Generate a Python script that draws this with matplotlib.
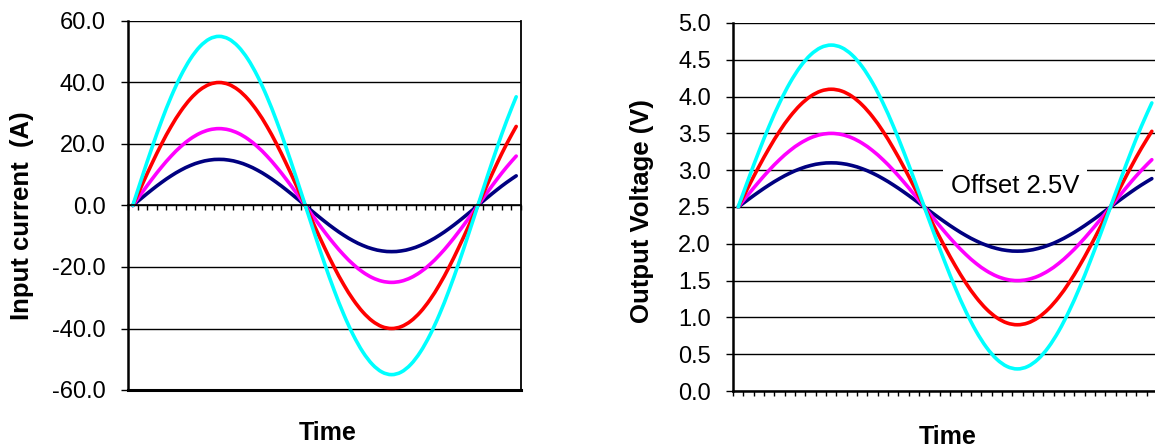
import numpy as np
import matplotlib.pyplot as plt
from matplotlib.path import Path
from matplotlib.patches import PathPatch

plt.rcParams['font.family'] = ['Liberation Sans', 'DejaVu Sans']

# phase of each sample point (degrees), one point per category
phase_deg = list(range(0, 401, 10))

# input current amplitudes (A) and matching output voltage swings (V)
current_amp = [15, 25, 40, 55]
voltage_amp = [0.6, 1.0, 1.6, 2.2]
voltage_offset = 2.5
colors = ["#000080", "#FF00FF", "#FF0000", "#00FFFF"]

current_ticks = [-60, -40, -20, 0, 20, 40, 60]
voltage_ticks = [0.0, 0.5, 1.0, 1.5, 2.0, 2.5, 3.0, 3.5, 4.0, 4.5, 5.0]

W, H = 1155, 447
fig = plt.figure(figsize=(W / 100, H / 100), dpi=100)

ax1 = fig.add_axes([128 / W, 1 - 390 / H, (521 - 128) / W, (390 - 21) / H])
ax2 = fig.add_axes([733 / W, 1 - 391 / H, (1157 - 733) / W, (391 - 23) / H])

x = np.arange(len(phase_deg))
rad = np.radians(phase_deg)


def smooth_line(ax, xs, ys, color):
    # Excel style smoothed line: bezier segments through every data point
    pts = np.column_stack([xs, ys]).astype(float)
    ext = np.vstack([pts[0], pts, pts[-1]])
    verts = [pts[0]]
    codes = [Path.MOVETO]
    for i in range(len(pts) - 1):
        p0, p1, p2, p3 = ext[i], ext[i + 1], ext[i + 2], ext[i + 3]
        verts += [p1 + (p2 - p0) / 6, p2 - (p3 - p1) / 6, p2]
        codes += [Path.CURVE4] * 3
    ax.add_patch(PathPatch(Path(verts, codes), fill=False, edgecolor=color,
                           lw=2.6, capstyle='round', joinstyle='round'))


def style(ax, yticks, fmt):
    ax.set_xlim(-0.5, len(phase_deg) - 0.5)
    ax.set_ylim(yticks[0], yticks[-1])
    ax.set_yticks(yticks)
    ax.set_yticklabels([fmt % v for v in yticks])
    ax.set_xticks(np.arange(-0.5, len(phase_deg)))
    ax.set_xticklabels([])
    ax.tick_params(axis='y', direction='out', length=5, width=1, pad=11, labelsize=17)
    ax.tick_params(axis='x', direction='out', length=3.5, width=1)
    ax.grid(axis='y', color='black', lw=1)
    ax.set_axisbelow(True)
    ax.spines['left'].set_linewidth(1.8)
    ax.spines['top'].set_visible(False)


# left: input current
for a, c in zip(current_amp, colors):
    smooth_line(ax1, x, a * np.sin(rad), c)
style(ax1, current_ticks, "%.1f")
ax1.spines['bottom'].set_position(('data', 0))
ax1.spines['bottom'].set_linewidth(1.2)
ax1.spines['right'].set_linewidth(1.3)
ax1.axhline(current_ticks[0], color='black', lw=2.2, clip_on=False)

# right: output voltage
for a, c in zip(voltage_amp, colors):
    smooth_line(ax2, x, voltage_offset + a * np.sin(rad), c)
style(ax2, voltage_ticks, "%.1f")
ax2.spines['right'].set_visible(False)
ax2.spines['bottom'].set_linewidth(1.8)
ax2.text(26.8, 2.78, "Offset 2.5V", fontsize=18.5, ha='center', va='center',
         bbox=dict(facecolor='white', edgecolor='none', boxstyle='square,pad=0.3'))

fig.text(22 / W, 1 - 216 / H, "Input current  (A)", rotation=90, fontsize=18.5,
         fontweight='bold', ha='center', va='center')
fig.text(642 / W, 1 - 211 / H, "Output Voltage (V)", rotation=90, fontsize=18.5,
         fontweight='bold', ha='center', va='center')
fig.text(328 / W, 1 - 433 / H, "Time", fontsize=18, fontweight='bold', ha='center', va='center')
fig.text(948 / W, 1 - 437 / H, "Time", fontsize=18, fontweight='bold', ha='center', va='center')

fig.savefig("out.png", dpi=100)
